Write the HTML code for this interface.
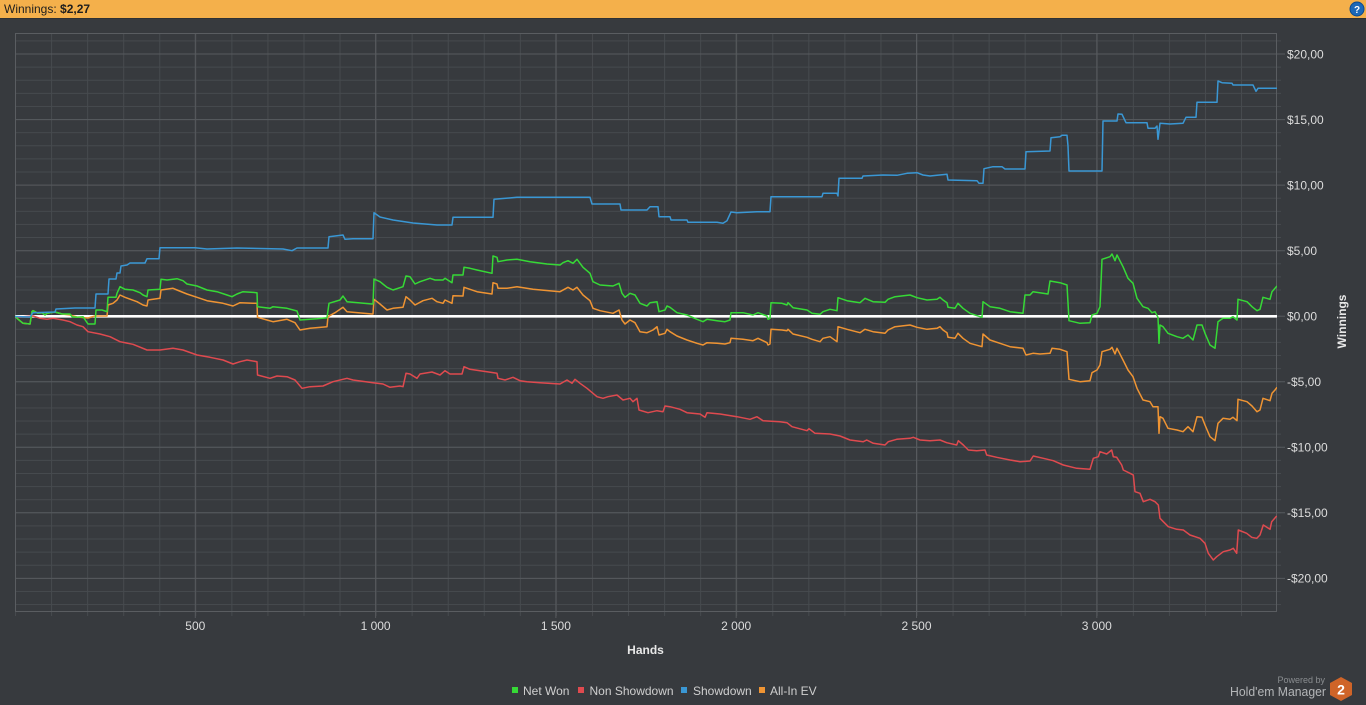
<!DOCTYPE html>
<html><head><meta charset="utf-8"><style>
html,body{margin:0;padding:0;background:#373a3e;width:1366px;height:705px;overflow:hidden;}
svg{display:block;font-family:"Liberation Sans",sans-serif;}
</style></head><body>
<svg width="1366" height="705" viewBox="0 0 1366 705" xmlns="http://www.w3.org/2000/svg">
<defs>
<pattern id="vg" patternUnits="userSpaceOnUse" x="15" y="0" width="36.06" height="705"><line x1="0.5" y1="0" x2="0.5" y2="705" stroke="#464a4e" stroke-width="1"/></pattern>
<pattern id="hg" patternUnits="userSpaceOnUse" x="0" y="40.43" width="1366" height="13.108"><line x1="0" y1="0.5" x2="1366" y2="0.5" stroke="#464a4e" stroke-width="1"/></pattern>
<clipPath id="pc"><rect x="15" y="33" width="1262" height="579"/></clipPath>
</defs>
<rect x="0" y="0" width="1366" height="705" fill="#373a3e"/>
<!-- header -->
<rect x="0" y="0" width="1366" height="18" fill="#f4b04b"/>
<rect x="0" y="18" width="1366" height="1" fill="#2e3134"/>
<text x="4" y="13" font-size="12" fill="#1e1e1e">Winnings: <tspan font-weight="bold">$2,27</tspan></text>
<circle cx="1357" cy="9" r="7" fill="#1b68b8" stroke="#0d4a8a" stroke-width="1"/>
<text x="1357" y="13" font-size="10" font-weight="bold" fill="#fff" text-anchor="middle">?</text>

<!-- grid -->
<rect x="15" y="33" width="1262" height="579" fill="url(#vg)"/>
<rect x="15" y="33" width="1262" height="579" fill="url(#hg)"/>
<rect x="15" y="611" width="1262" height="5" fill="url(#vg)"/>
<rect x="1276" y="33" width="5" height="579" fill="url(#hg)"/>
<g stroke="#575a5e" stroke-width="1">
<line x1="195.3" y1="33" x2="195.3" y2="618"/>
<line x1="375.6" y1="33" x2="375.6" y2="618"/>
<line x1="555.9" y1="33" x2="555.9" y2="618"/>
<line x1="736.2" y1="33" x2="736.2" y2="618"/>
<line x1="916.5" y1="33" x2="916.5" y2="618"/>
<line x1="1096.8" y1="33" x2="1096.8" y2="618"/>
<line x1="15" y1="54.0" x2="1285" y2="54.0"/>
<line x1="15" y1="119.6" x2="1285" y2="119.6"/>
<line x1="15" y1="185.1" x2="1285" y2="185.1"/>
<line x1="15" y1="250.7" x2="1285" y2="250.7"/>
<line x1="1276" y1="316.2" x2="1285" y2="316.2"/>
<line x1="15" y1="381.7" x2="1285" y2="381.7"/>
<line x1="15" y1="447.3" x2="1285" y2="447.3"/>
<line x1="15" y1="512.8" x2="1285" y2="512.8"/>
<line x1="15" y1="578.4" x2="1285" y2="578.4"/>
</g>
<rect x="15.5" y="33.5" width="1261" height="578" fill="none" stroke="#5a5d61" stroke-width="1"/>

<!-- zero line -->
<line x1="15" y1="316.3" x2="1277" y2="316.3" stroke="#ffffff" stroke-width="2.6"/>

<g clip-path="url(#pc)" fill="none" stroke-width="1.5" stroke-linejoin="round">
<!-- Non Showdown (red) -->
<polyline stroke="#df4a4f" points="15,316 17,317.3 33,316 40,318.3 47,319.3 53,318.3 63,320 70,321.7 77,325 83,326.7 88,331.7 100,334 110,336.7 120,341.7 133,344.3 147,350 160,350 173,348.3 183,350 197,355 210,357.3 223,360 233,364 240,361.7 247,360 257,361.7 257.5,375 270,378.3 277,376 287,376.7 295,380 302,388.3 310,386.7 323,386 333,381.7 347,378.3 353,380 373,382.7 383,384 390,387.3 400,386 403,386.7 406,373.3 410,374 417,378.3 420,374 432,372 440,375 445,370.7 450,374 462,374 464,366.7 470,369.3 480,370.7 487,371.7 497,373.3 498,378.3 505,380 513,377.3 520,380.7 527,381.7 540,382.7 560,384 567,380 572,383.3 575,379.3 580,383.3 587,388.3 597,396.7 603,398.3 608,396.7 617,395 623,400 630,398.3 633,401.7 637,398.3 639,410 648,412.7 657,410.7 663,411.7 665,406 670,406.7 680,409.3 687,412.7 700,414 705,417.3 707,412.7 720,414 737,416.7 750,419.3 757,416.7 763,420.7 780,421.7 787,422.7 792,426.7 807,430.7 809,428.7 815,433.3 830,434 840,436 850,440 863.3,441.7 866.7,440 873.3,443.3 885,445 888.3,441.7 896.7,439.3 910,438.3 913.3,437.3 920,440 930,440.7 940,440 946.7,442.7 956.7,445 958.3,440.7 963.3,445 968.3,450 976.7,450.7 985,450 986.7,455 996.7,457.3 1010,460 1020,461.7 1030,461 1033.3,456 1043.3,458.3 1053.3,460.7 1063.3,465 1076.7,468.3 1090,469.3 1093.3,458.3 1098.3,456.7 1100,451.7 1106.7,454 1111.7,450 1113.3,456.7 1116.7,457.3 1121.7,465 1123.3,470 1130,473.3 1133.3,475 1135,491.7 1140,493.3 1143.3,501.7 1150,499.3 1155,501.7 1158.3,505 1160,518.3 1163.3,521.7 1168.3,526.7 1176.7,529.3 1183.3,530 1190,535 1200,538.3 1205,543.3 1208.3,553.3 1213.3,560 1216.7,556.7 1223.3,551.7 1230,550 1233.3,548.3 1236.7,553.3 1238.3,530 1246.7,533.3 1251.7,537.3 1256.7,538.3 1260,535 1263.3,525 1270,529.3 1271.7,521.7 1276.7,516"/>
<!-- All-In EV (orange) -->
<polyline stroke="#ef9433" points="15,316 17,318.3 23,323.3 30,324 32,311.7 33,310.7 38,313.3 42,312.7 45,315 47,313.3 55,312 62,314 70,315 77,317 88,318 95,316 107,316 108,305 113,303.3 117,300 120,295 125,297.3 137,301.7 143,305 147,306 148,300 160,298.3 161,290 173,288.3 177,290 187,294 197,297.3 207,300.7 223,303.3 233,306 240,302.7 253,303.3 257,303.3 257.5,317.3 267,320 273,321.7 287,319.3 295,322.7 300,330 310,328.3 327,326.7 328,316.7 335,312.7 343,307.3 347,311.7 372,314 373,314 374,299.3 380,304 387,310 393,308.3 403,307.3 406,296.7 410,300 415,305 423,300.7 432,298.3 437,301.7 443,303.3 445,300 452,303.3 453,295.7 463,296 464,287.3 477,291.7 492,294 493,282.7 497,284 498,288.3 507,288.3 517,286.7 533,289.3 560,291.7 568,287.3 573,290 577,287.3 583,295 590,300.7 593,308.3 600,310.7 613,313.3 619,310 622,320 625,324 630,320 635,322.7 640,331.7 647,332.7 653,330 657,326.7 659,335 665,333.3 667,329.3 670,331.7 677,336 687,340 697,343.3 703,345 707,342.7 717,343.3 725,344 730,342.7 731,338.3 743,339.3 753,340.7 758,338.3 767,342.7 768,345 770,344 771,329.3 782,330 787,330.7 788,329.3 793,334 807,337.3 812,339.3 820,341.7 823,338.3 830,336.7 837,341.7 838,326.7 847,329.3 860,332.7 865,329.3 873,331.7 885,333.3 888,330 895,326.7 910,325 917,327.3 927,329.3 937,328.3 940,326.7 943,330 947,332.7 948,337.3 955,338.3 958,333.3 963,338.3 970,343.3 982,346.7 983,334 990,340 1000,343.3 1010,346.7 1023,348.3 1026,355 1033,353.3 1040,354 1050,353.3 1052,348.3 1060,349.3 1067,351.7 1069,379.3 1080,381.7 1090,380.7 1092,372.7 1097,370 1100,365 1102,351.7 1110,349.3 1112,347.3 1115,354 1117,348.3 1123,360 1128,370 1133,376.7 1137,388.3 1143,400 1150,401.7 1153,406.7 1158,406.7 1159,433.3 1160,416.7 1163,418.3 1168,428.3 1177,430 1183,431.7 1188,426.7 1193,431.7 1197,416.7 1202,417.3 1205,425 1210,436.7 1215,440.7 1218,423.3 1223,418.3 1230,419.3 1233,417.3 1237,420.7 1238,399.3 1247,401.7 1252,406 1257,411.7 1260,410 1263,398.3 1270,400.7 1272,393.3 1275,390 1277,387.3"/>
<!-- Net Won (green) -->
<polyline stroke="#36d936" points="15,316 17,318.3 23,323.3 30,324 32,311.7 33,310.7 38,313.3 42,312.7 45,315 47,313.3 55,312 62,314 70,314 72,316.7 77,317.3 83,316.7 88,324 95,324 96,310 102,310 107,311.7 108,297.3 116,297.3 117,293.3 120,286.7 125,289.3 133,290 140,292.7 143,295 147,296.7 148,290 160,289.3 161,279.3 167,280 177,278.7 183,280.7 187,284 197,286 207,290 217,291.7 227,295 232,296.7 237,294 243,291.7 257,292.7 257.5,306.7 270,308.3 273,306.7 287,308.3 297,311 300,320 317,318.7 327,317.7 329,303.3 340,300 343,296 347,301.7 372,304 373,304 374,279 380,281.7 387,287.3 393,290 403,286.7 406,276 410,276.7 415,284 420,281.7 430,278.3 435,280 443,280 445,278.3 452,282.7 453,275 463,275 464,267.3 470,268.3 477,270 492,273.3 493,256 497,257.3 498,261.7 507,260 517,259.3 530,261.7 547,264 560,265 563,262.7 568,260.7 573,263.3 577,259.3 583,267.3 590,273.3 593,281.7 600,285 613,286 619,283.3 622,293.3 625,297.3 630,293.3 635,295 640,303.3 647,306 650,302.7 657,301.7 659,311.7 665,310 667,306 670,307.3 677,312.7 687,315 697,319.3 703,321.7 707,319.3 717,320.7 725,321.7 730,320 731,312.7 743,312.7 753,315 758,312.7 767,316 768,319.3 770,318.3 771,302.7 782,303.3 787,305 788,302.7 793,307.7 807,310 812,313.3 820,314.3 823,311.7 830,309.3 837,310.7 838,297.7 847,300.7 860,302.7 865,298.3 873,301.7 885,302.3 888,299.3 895,296.7 910,295 917,297.7 927,300 937,299.3 940,297.3 943,300 947,302.7 948,307.3 955,308.3 958,303.3 963,308.3 970,313.3 982,317.3 983,301.7 990,306.7 1000,308.3 1010,311.7 1023,313.3 1025,295 1030,295 1033,291.7 1048,294 1050,281 1060,282.7 1067,285 1069,320.7 1080,323.3 1090,322.7 1092,315 1097,313.3 1100,306.7 1102,259.3 1110,256.7 1112,254 1115,260.7 1117,255 1123,266.7 1128,278.3 1133,283.3 1137,298.3 1143,306.7 1148,308.3 1152,312.7 1155,311.7 1158,317.3 1159,343.3 1160,325 1163,326.7 1168,333.3 1177,336.7 1183,338.3 1188,335 1193,340 1197,325 1202,325 1205,333.3 1210,345 1215,348.3 1218,321.7 1223,318.3 1230,318.3 1233,316.7 1237,320 1238,299.3 1247,301.7 1252,306.7 1257,310.7 1260,309.3 1263,297.3 1270,299.3 1272,291.7 1275,288.3 1277,286"/>
<!-- Showdown (blue) -->
<polyline stroke="#3a97d4" points="15,316.5 30,317 33,312.7 55,312 56,309 75,308 95,308 96,294 108,294 109,279 116,279 117,273 120,273 121,266 127,265 130,263 145,263 147,258.7 159,258.7 160,247.7 195,247.7 207,249 237,248 283,249 292,250.7 297,248 328,248 329,236.7 343,235 345,239.3 353,238.7 373,238.7 374,212.7 380,217 393,220 413,223 437,225 452,225 453,217.3 493,217.3 494,199.3 517,197.3 590,197.3 592,204 620,204 621,210 647,210 650,206.7 658,206.7 659,216.7 670,216.7 671,220 687,220 688,222.3 717,222.3 723,223.3 727,220.7 731,212 737,212.7 757,211.7 770,211.7 771,196.7 822,196.7 823,193.3 837,193.3 838,196 839,178.3 862,178.3 863,176 883,175 897,175.3 907,173.3 917,172.7 923,175 930,176 937,175.3 947,174.3 948,180 977,180.7 979,183.3 983,183.3 984,168.7 993,166.7 1002,166.7 1005,169 1025,169 1026,151.7 1050,151 1051,137.7 1060,136.7 1062,135.3 1067,135.3 1068,146 1069,171 1102,171 1103,121 1117,121 1118,114 1122,114.3 1126,122.7 1147,122.7 1148,128.3 1155,128.3 1157,126 1158,139.3 1160,123.3 1170,124 1183,123.3 1186,117.3 1196,117.3 1197,102.3 1217,102.3 1218,81 1222,82.7 1232,83.3 1233,85 1253,85 1256,91.3 1258,88.3 1277,88.3"/>
</g>

<!-- Y axis labels -->
<g font-size="12" fill="#dcdcdc">
<text x="1287" y="58.3">$20,00</text>
<text x="1287" y="123.9">$15,00</text>
<text x="1287" y="189.4">$10,00</text>
<text x="1287" y="255">$5,00</text>
<text x="1287" y="320.5">$0,00</text>
<text x="1287" y="386">-$5,00</text>
<text x="1287" y="451.6">-$10,00</text>
<text x="1287" y="517.1">-$15,00</text>
<text x="1287" y="582.7">-$20,00</text>
</g>
<text transform="translate(1346,321.5) rotate(-90)" font-size="12" font-weight="bold" fill="#e8e8e8" text-anchor="middle">Winnings</text>

<!-- X axis labels -->
<g font-size="12" fill="#dcdcdc" text-anchor="middle">
<text x="195.3" y="630">500</text>
<text x="375.6" y="630">1 000</text>
<text x="555.9" y="630">1 500</text>
<text x="736.2" y="630">2 000</text>
<text x="916.5" y="630">2 500</text>
<text x="1096.8" y="630">3 000</text>
</g>
<text x="645.5" y="654" font-size="12" font-weight="bold" fill="#e8e8e8" text-anchor="middle">Hands</text>

<!-- Legend -->
<g font-size="12" fill="#cfcfcf">
<rect x="512" y="687" width="6" height="6" fill="#36d936"/>
<text x="523" y="695">Net Won</text>
<rect x="578" y="687" width="6" height="6" fill="#df4a4f"/>
<text x="589.5" y="695">Non Showdown</text>
<rect x="681" y="687" width="6" height="6" fill="#3a97d4"/>
<text x="693" y="695">Showdown</text>
<rect x="759" y="687" width="6" height="6" fill="#ef9433"/>
<text x="770" y="695">All-In EV</text>
</g>

<!-- Logo -->
<text x="1325" y="683" font-size="9" fill="#8a8d90" text-anchor="end">Powered by</text>
<text x="1230" y="696" font-size="13" fill="#b4b6b8" textLength="96" lengthAdjust="spacingAndGlyphs">Hold'em Manager</text>
<polygon points="1341,677 1352,683 1352,695 1341,701 1330,695 1330,683" fill="#cf6428"/>
<text x="1341" y="694.5" font-size="14" font-weight="bold" fill="#ffffff" text-anchor="middle">2</text>
</svg>
</body></html>
